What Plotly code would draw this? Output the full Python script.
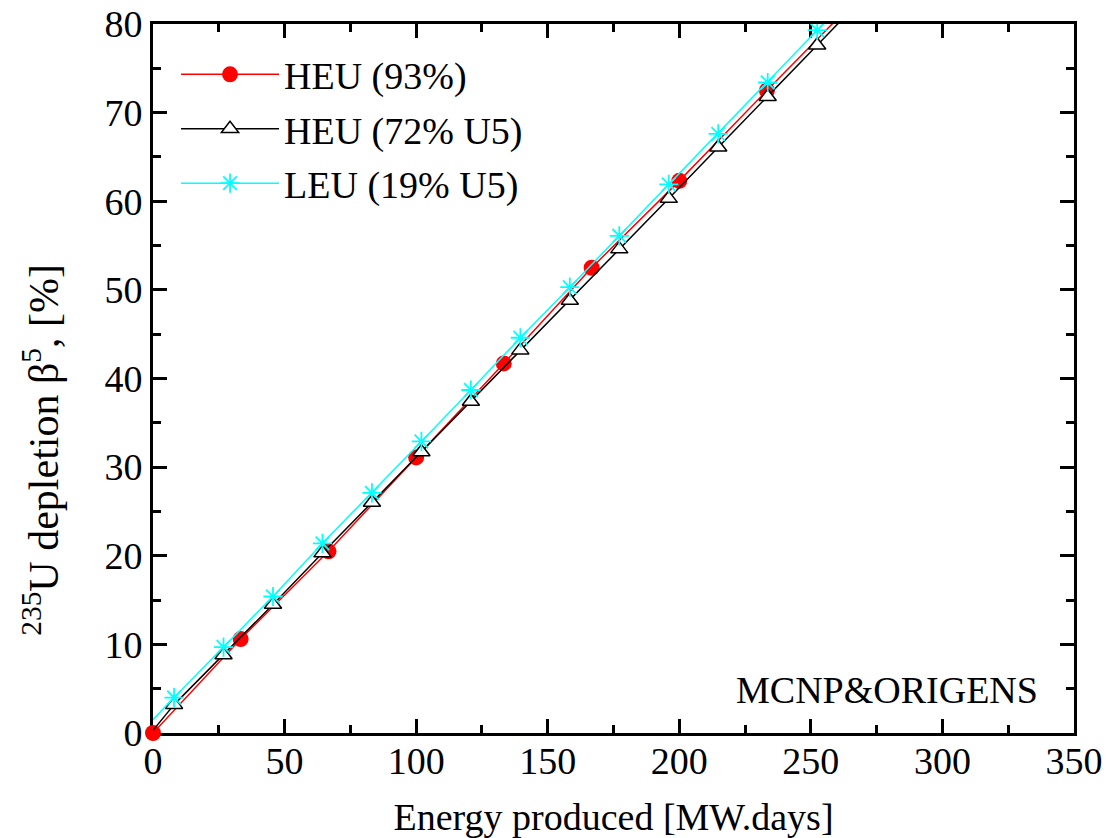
import plotly.graph_objects as go

# HEU (93%)  - marked points, then the line continues off the top of the frame
heu93_x = [0, 33.3, 66.7, 100, 133.3, 166.7, 200, 233.3]
heu93_y = [0, 10.6, 20.5, 31.1, 41.7, 52.5, 62.3, 72.5]
heu93_tail_x = [233.3, 266.7]
heu93_tail_y = [72.5, 82.6]
# HEU (72% U5)
heu72_x = [8.0, 26.8, 45.6, 64.4, 83.2, 102.0, 120.8, 139.6, 158.4, 177.2, 196.0, 214.8, 233.6, 252.4]
heu72_y = [3.2, 8.8, 14.5, 20.3, 26.0, 31.7, 37.4, 43.2, 48.8, 54.6, 60.3, 66.1, 71.8, 77.6]
heu72_head_x = [0, 8.0]
heu72_head_y = [0.3, 3.2]
heu72_tail_x = [252.4, 271.2]
heu72_tail_y = [77.6, 83.4]
# LEU (19% U5)
leu19_x = [8.0, 26.8, 45.6, 64.4, 83.2, 102.0, 120.8, 139.6, 158.4, 177.2, 196.0, 214.8, 233.6, 252.4]
leu19_y = [4.0, 9.7, 15.4, 21.4, 27.1, 32.9, 38.7, 44.6, 50.3, 56.1, 61.9, 67.6, 73.4, 79.3]
leu19_head_x = [0, 8.0]
leu19_head_y = [1.5, 4.0]
leu19_tail_x = [252.4, 271.2]
leu19_tail_y = [79.3, 85.0]

x_ticks = [0, 50, 100, 150, 200, 250, 300, 350]
y_ticks = [0, 10, 20, 30, 40, 50, 60, 70, 80]

FONT = "Liberation Serif"
RED, BLACK, CYAN = "#ff0000", "#000000", "#00ffff"

fig = go.Figure()

def seg(xs, ys, color, group):
    fig.add_trace(go.Scatter(x=xs, y=ys, mode="lines", line=dict(color=color, width=1.5),
                             showlegend=False, hoverinfo="skip", legendgroup=group))

# red
seg(heu93_tail_x, heu93_tail_y, RED, "a")
fig.add_trace(go.Scatter(
    x=heu93_x, y=heu93_y, mode="lines+markers", name="HEU (93%)",
    line=dict(color=RED, width=1.5),
    marker=dict(symbol="circle", size=16, color=RED, opacity=1),
    cliponaxis=False, legendgroup="a"))
# black
seg(heu72_head_x, heu72_head_y, BLACK, "b")
seg(heu72_tail_x, heu72_tail_y, BLACK, "b")
fig.add_trace(go.Scatter(
    x=heu72_x, y=heu72_y, mode="lines+markers", name="HEU (72% U5)",
    line=dict(color=BLACK, width=1.5),
    marker=dict(symbol="triangle-up", size=15, color="white", opacity=1,
                line=dict(color=BLACK, width=1.5)),
    legendgroup="b"))
# cyan
seg(leu19_head_x, leu19_head_y, CYAN, "c")
seg(leu19_tail_x, leu19_tail_y, CYAN, "c")
fig.add_trace(go.Scatter(
    x=leu19_x, y=leu19_y, mode="lines+markers", name="LEU (19% U5)",
    line=dict(color=CYAN, width=1.5),
    marker=dict(symbol="asterisk-open", size=16, color=CYAN, opacity=1,
                line=dict(color=CYAN, width=1.8)),
    legendgroup="c"))

axis_common = dict(
    showline=True, linewidth=3, linecolor="black", mirror="ticks",
    ticks="inside", ticklen=14, tickwidth=2.5, tickcolor="black",
    showgrid=False, zeroline=False, automargin=False,
    tickfont=dict(family=FONT, size=38, color="black"),
    layer="below traces",
)

fig.update_xaxes(range=[0, 350], tickvals=x_ticks, ticktext=[str(v) for v in x_ticks],
                 minor=dict(dtick=25, ticks="inside", ticklen=8, tickwidth=2.5, tickcolor="black"),
                 ticklabelstandoff=-8,
                 title=dict(text="Energy produced [MW.days]", font=dict(family=FONT, size=38, color="black"),
                            standoff=24),
                 **axis_common)
fig.update_yaxes(range=[0, 80], tickvals=y_ticks, ticktext=[str(v) for v in y_ticks],
                 minor=dict(dtick=5, ticks="inside", ticklen=8, tickwidth=2.5, tickcolor="black"),
                 **axis_common)

fig.add_annotation(text="<sup>235</sup>U depletion β<sup>5</sup>, [%]", textangle=-90,
                   xref="paper", yref="paper", x=-0.122, y=0.399, xanchor="center", yanchor="middle",
                   showarrow=False, font=dict(family=FONT, size=42, color="black"))
fig.add_annotation(text="MCNP&ORIGENS", xref="paper", yref="paper", x=0.797, y=0.061,
                   xanchor="center", yanchor="middle", showarrow=False,
                   font=dict(family=FONT, size=38, color="black"))

fig.update_layout(
    width=1116, height=838,
    margin=dict(l=153, r=42, t=24, b=105),
    plot_bgcolor="white", paper_bgcolor="white",
    font=dict(family=FONT, size=38, color="black"),
    legend=dict(x=0.025, y=0.973, xanchor="left", yanchor="top", bgcolor="rgba(0,0,0,0)",
                borderwidth=0, tracegroupgap=2, itemwidth=98,
                font=dict(family=FONT, size=38, color="black")),
    showlegend=True,
)

fig.write_html("out.html")
